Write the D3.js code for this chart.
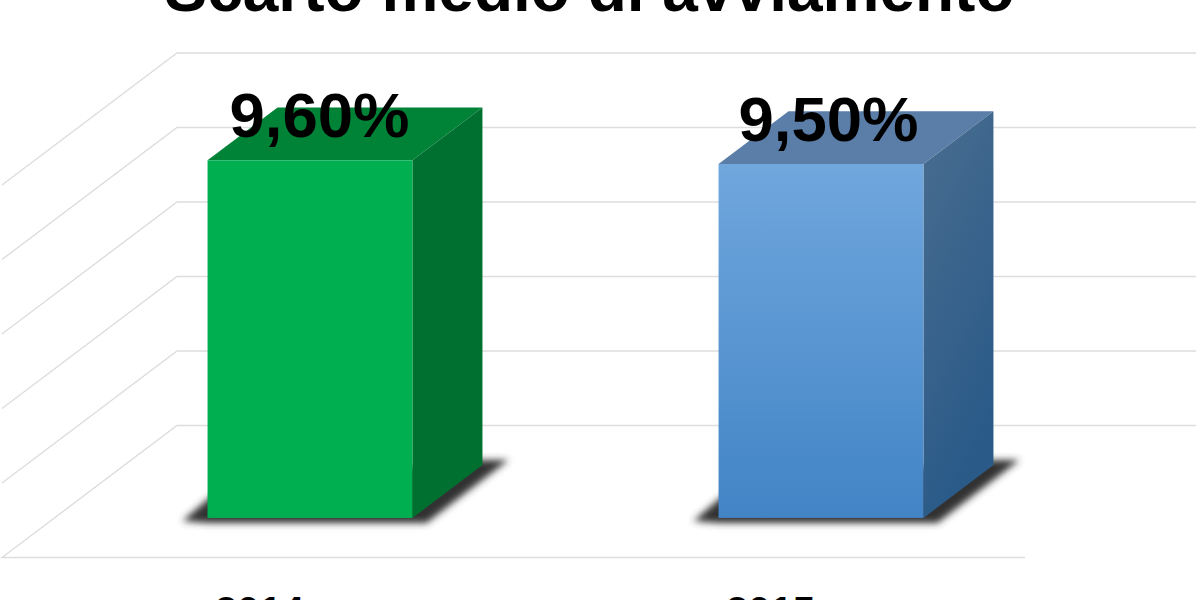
<!DOCTYPE html>
<html><head><meta charset="utf-8">
<script src="https://cdn.jsdelivr.net/npm/d3@7/dist/d3.min.js"></script>
<style>html,body{margin:0;padding:0;background:#fff;overflow:hidden}svg{display:block}text{font-family:"Liberation Sans",Arial,sans-serif}</style>
</head><body><svg id="c" width="1200" height="600"></svg>
<script>
const title = "Scarto medio di avviamento";
const categories = ["2014", "2015"];
const values = [9.6, 9.5];
const valueLabels = ["9,60%", "9,50%"];
const gridTicks = [0, 2, 4, 6, 8, 10];
const faceTop = ["#00B050", "#70A7DD"];
const faceBottom = ["#00B050", "#4284C6"];
const topColors = ["#008237", "#5A7EA8"];
const sideTop = ["#007030", "#4A6D90"];
const sideBottom = ["#007030", "#295A88"];

const svg = d3.select("#c");
const x = d3.scaleBand().domain(categories).range([2, 1024]).paddingInner(0.599).paddingOuter(0.2995);
const y = d3.scaleLinear().domain([0, 10]).range([557.5, 185]);
const depth = {dx: 175, dy: 132};
const zFront = 0.3, zBack = 0.7;
const px = (xv, z) => xv + z * depth.dx;
const py = (v, z) => y(v) - z * depth.dy;
const pts = a => a.map(p => p.join(",")).join(" ");

const defs = svg.append("defs");
defs.append("filter").attr("id", "blur").attr("x", "-20%").attr("y", "-50%").attr("width", "140%").attr("height", "200%")
  .append("feGaussianBlur").attr("stdDeviation", 3.6);
categories.forEach((c, i) => {
  const g1 = defs.append("linearGradient").attr("id", "face" + i).attr("x1", 0).attr("y1", 0).attr("x2", 0).attr("y2", 1);
  g1.append("stop").attr("offset", 0).attr("stop-color", faceTop[i]);
  g1.append("stop").attr("offset", 1).attr("stop-color", faceBottom[i]);
  const g2 = defs.append("linearGradient").attr("id", "side" + i).attr("x1", 0).attr("y1", 0).attr("x2", 0.35).attr("y2", 1);
  g2.append("stop").attr("offset", 0).attr("stop-color", sideTop[i]);
  g2.append("stop").attr("offset", 1).attr("stop-color", sideBottom[i]);
});

// gridlines: back wall, left wall
const [r0, r1] = x.range();
const grid = svg.append("g").attr("stroke", "#DDDDDD").attr("stroke-width", 1.4).attr("fill", "none");
grid.selectAll("path").data(gridTicks).join("path")
  .attr("d", t => t === 0
    ? `M${px(r1, 0) + 1},${py(t, 0)}L${px(r0, 0)},${py(t, 0)}L${px(r0, 1)},${py(t, 1)}L${px(r0, 1) + 1019},${py(t, 1)}`
    : `M${px(r0, 0)},${py(t, 0)}L${px(r0, 1)},${py(t, 1)}L${px(r0, 1) + 1019},${py(t, 1)}`);

const labelShift = [9.5, 7.5];
const bars = svg.selectAll("g.bar").data(categories).join("g").attr("class", "bar");
bars.each(function (c, i) {
  const g = d3.select(this), l = x(c), r = l + x.bandwidth(), v = values[i];
  // blurred contact shadow on the floor
  g.append("polygon").attr("filter", "url(#blur)").attr("fill", "#333333")
    .attr("points", pts([
      [px(l, zFront) - 25, py(0, zFront) + 3],
      [px(l, zFront) + 4, py(0, zFront) - 22],
      [px(r, zBack) - 20, py(0, zBack) - 5],
      [px(r, zBack) + 26, py(0, zBack) - 5],
      [px(r, zFront) + 14, py(0, zFront) + 5],
      [px(l, zFront), py(0, zFront) + 5]
    ]));
  g.append("polygon").attr("fill", topColors[i]).attr("points", pts([
    [px(l, zFront), py(v, zFront)], [px(l, zBack), py(v, zBack)],
    [px(r, zBack), py(v, zBack)], [px(r, zFront), py(v, zFront)]]));
  g.append("polygon").attr("fill", `url(#side${i})`).attr("points", pts([
    [px(r, zFront), py(v, zFront)], [px(r, zBack), py(v, zBack)],
    [px(r, zBack), py(0, zBack)], [px(r, zFront), py(0, zFront)]]));
  g.append("rect").attr("fill", `url(#face${i})`)
    .attr("x", px(l, zFront)).attr("y", py(v, zFront))
    .attr("width", x.bandwidth()).attr("height", py(0, zFront) - py(v, zFront));
  g.append("text").attr("x", px(l, zFront) + x.bandwidth() / 2 + labelShift[i]).attr("y", py(v, zFront) - 23)
    .attr("text-anchor", "middle").attr("font-size", 63.5).attr("font-weight", "bold").attr("fill", "#000")
    .text(valueLabels[i]);
});

// category axis
const ax = svg.append("g").call(d3.axisBottom(x).tickSize(0).tickPadding(39));
ax.attr("transform", `translate(2,${py(0, 0)})`);
ax.select(".domain").remove();
ax.selectAll("text").attr("font-size", 40).attr("font-weight", "bold").attr("fill", "#000")
  .style("font-family", '"Liberation Sans",Arial,sans-serif');

svg.append("text").attr("x", 589.5).attr("y", 11).attr("text-anchor", "middle")
  .attr("font-size", 64).attr("font-weight", "bold").attr("fill", "#000").text(title);
</script></body></html>
